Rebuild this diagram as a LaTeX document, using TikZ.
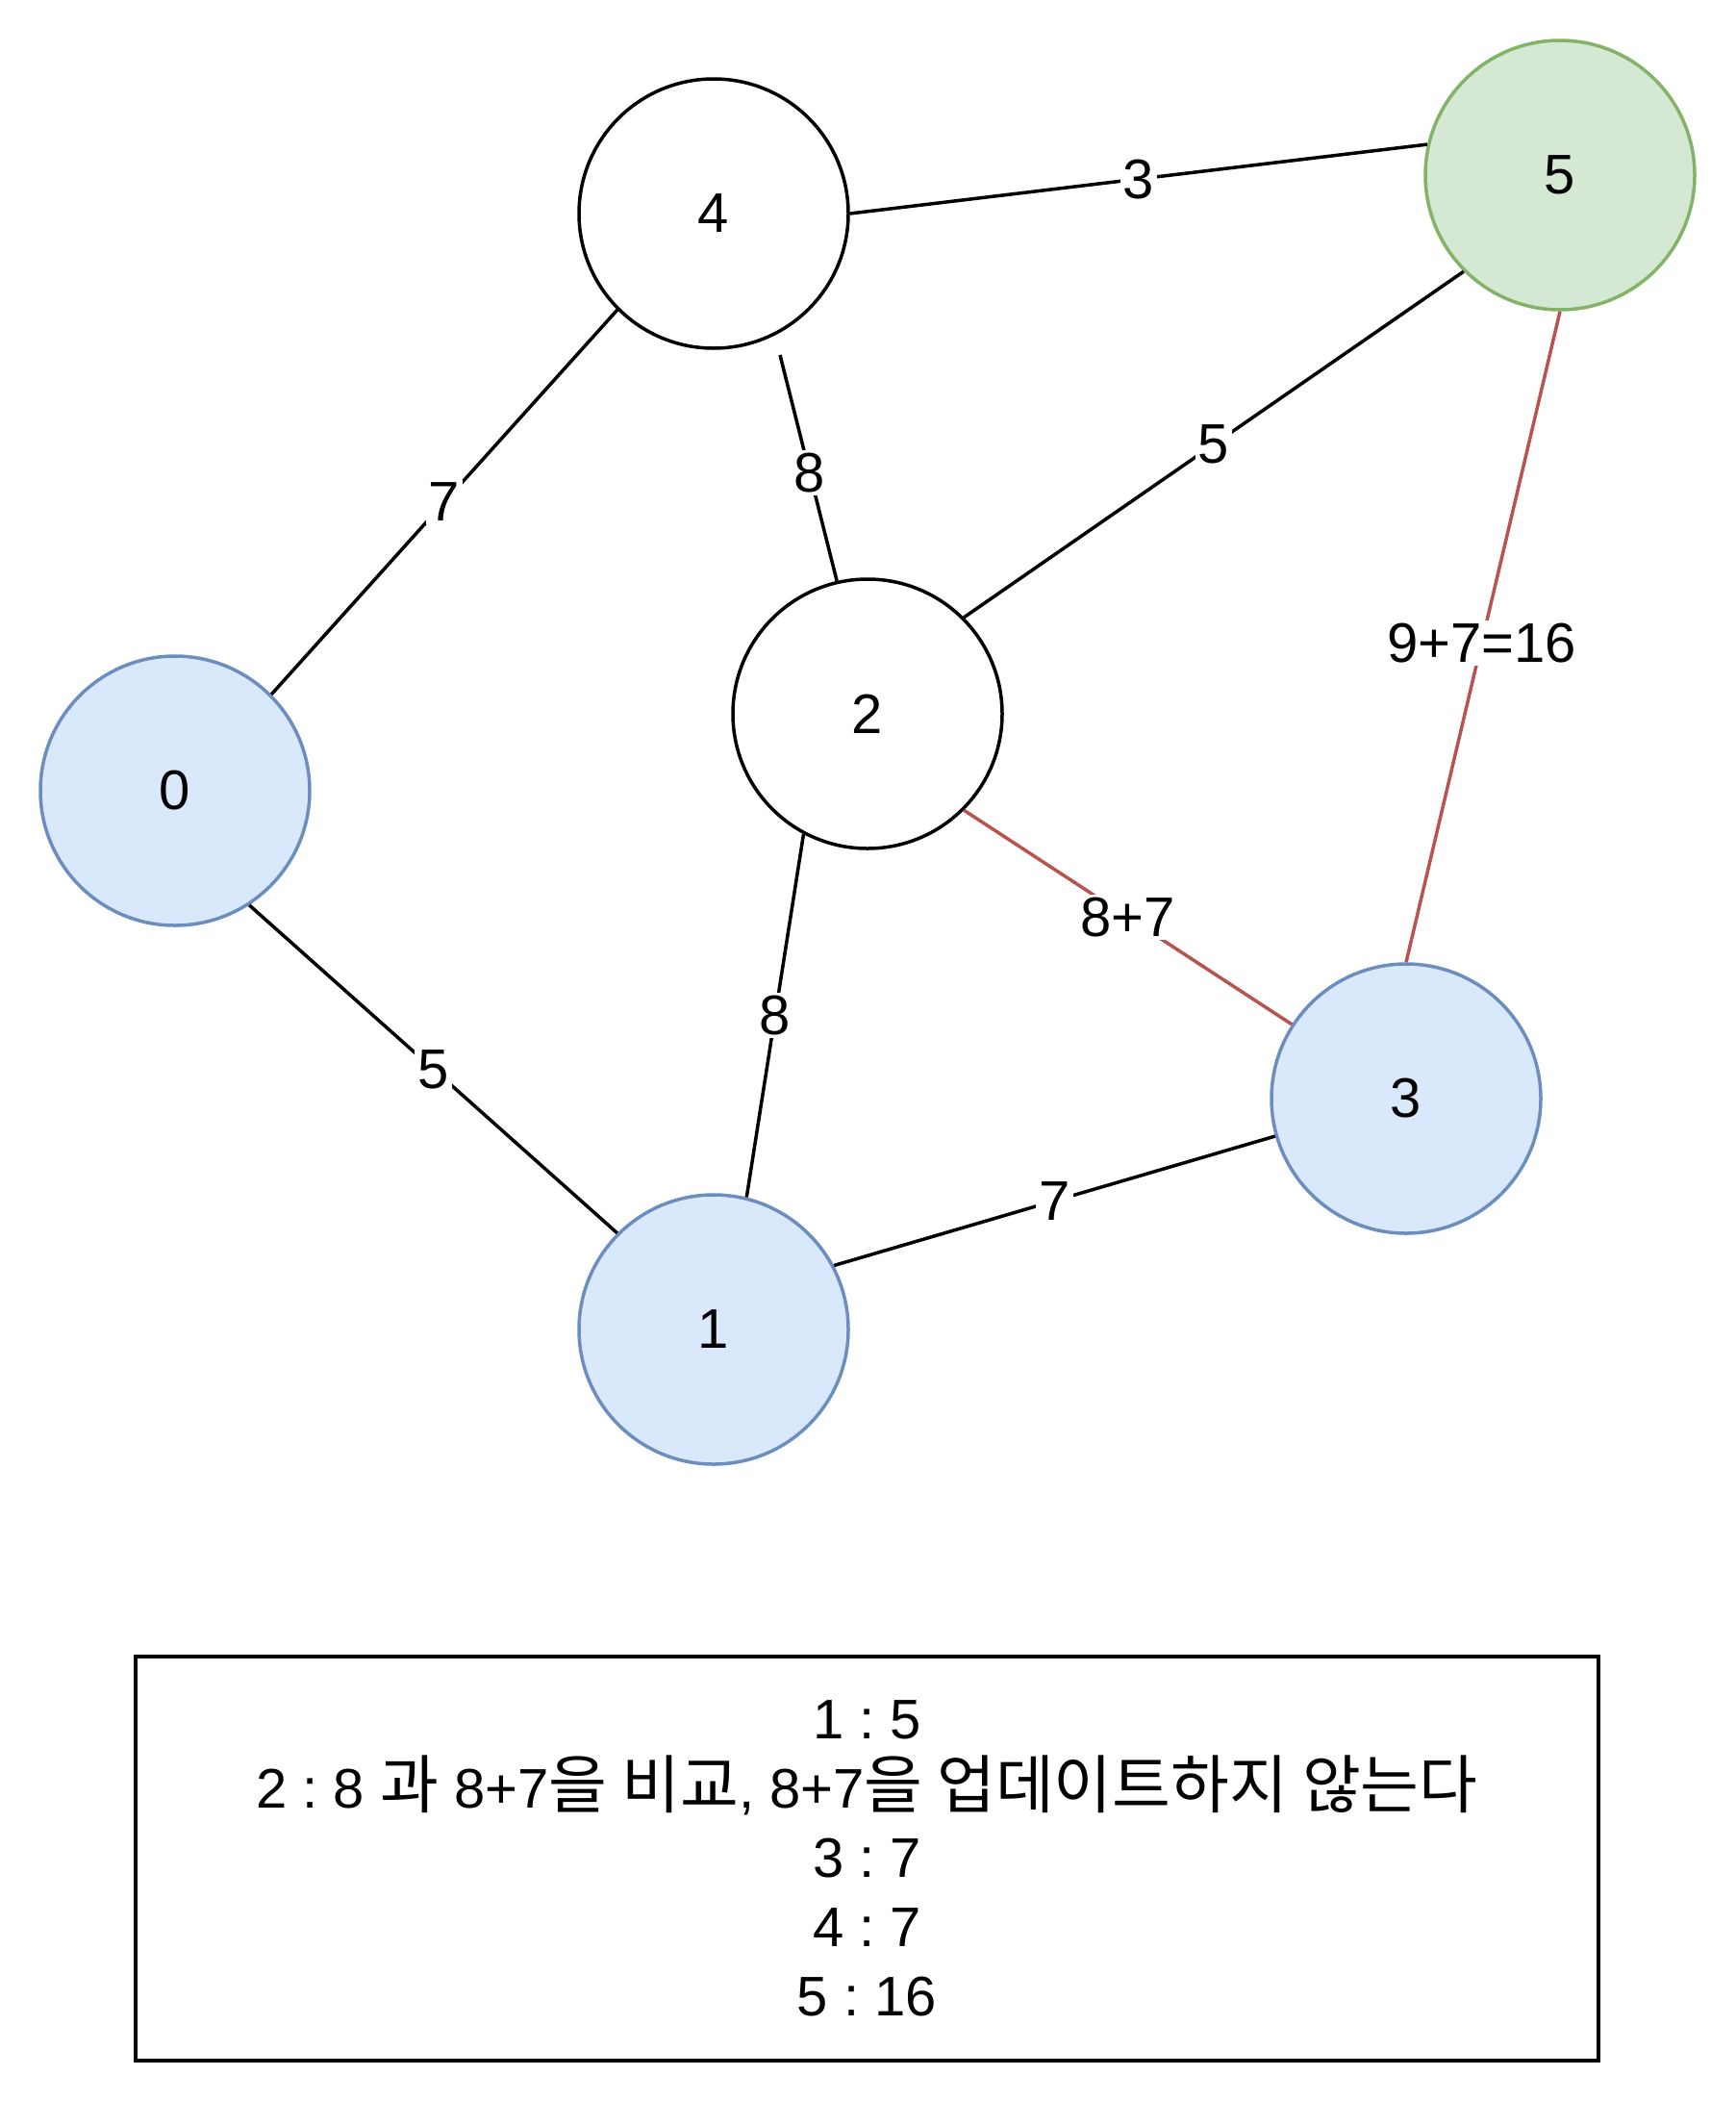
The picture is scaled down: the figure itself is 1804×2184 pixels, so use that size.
\documentclass[tikz,border=0pt]{standalone}
\usepackage{fontspec}
\setmainfont{Liberation Sans}
\newfontfamily\kr[Scale=1.14]{Noto Sans CJK KR}
\frenchspacing
\definecolor{bluefill}{HTML}{DAE8FC}
\definecolor{bluestroke}{HTML}{6C8EBF}
\definecolor{greenfill}{HTML}{D5E8D4}
\definecolor{greenstroke}{HTML}{82B366}
\definecolor{redline}{HTML}{B85450}
\begin{document}
\begin{tikzpicture}[x=0.5pt,y=-0.5pt,
  vtx/.style={circle, draw, line width=1.75pt, minimum size=140pt, inner sep=0pt, font=\fontsize{29}{36}\selectfont},
  bluevtx/.style={vtx, draw=bluestroke, fill=bluefill},
  greenvtx/.style={vtx, draw=greenstroke, fill=greenfill},
  plainvtx/.style={vtx, draw=black, fill=white},
  edge/.style={line width=1.75pt, draw=black},
  rededge/.style={line width=1.75pt, draw=redline},
  lbl/.style={fill=white, inner sep=1.5pt, font=\fontsize{29}{36}\selectfont},
  infobox/.style={draw, line width=1.75pt, minimum width=760.5pt, minimum height=210pt, inner sep=0pt, align=center, font=\fontsize{29}{36}\selectfont}
]
\useasboundingbox (0,0) rectangle (1804,2184);

\node[plainvtx] (n4) at (742,222) {4};
\node[greenvtx] (n5) at (1622,182) {5};
\node[bluevtx]  (n0) at (182,822) {0};
\node[plainvtx] (n2) at (902,742) {2};
\node[bluevtx]  (n3) at (1462,1142) {3};
\node[bluevtx]  (n1) at (742,1382) {1};
\coordinate (c42) at (811,369);

\draw[edge] (n4.east) -- node[lbl] {3} (n5.167);
\draw[edge] (n0.45) -- node[lbl] {7} (n4.225);
\draw[edge] (c42) -- node[lbl, pos=0.52] {8} (n2.103);
\draw[edge] (n2.45) -- node[lbl] {5} (n5.225);
\draw[rededge] (n5.south) -- node[lbl, pos=0.51] {9+7=16} (n3.north);
\draw[rededge] (n2.-45) -- node[lbl] {8+7} (n3.147);
\draw[edge] (n2.242) -- node[lbl] {8} (n1.76);
\draw[edge] (n0.-57) -- node[lbl] {5} (n1.135);
\draw[edge] (n1.28) -- node[lbl] {7} (n3.196);

\node[infobox] (box) at (901.5,1932) {1 : 5\\
2 : 8 {\kr 과} 8+7{\kr 을 비교}, 8+7{\kr 을 업데이트하지 않는다}\\
3 : 7\\
4 : 7\\
5 : 16};
\end{tikzpicture}
\end{document}
